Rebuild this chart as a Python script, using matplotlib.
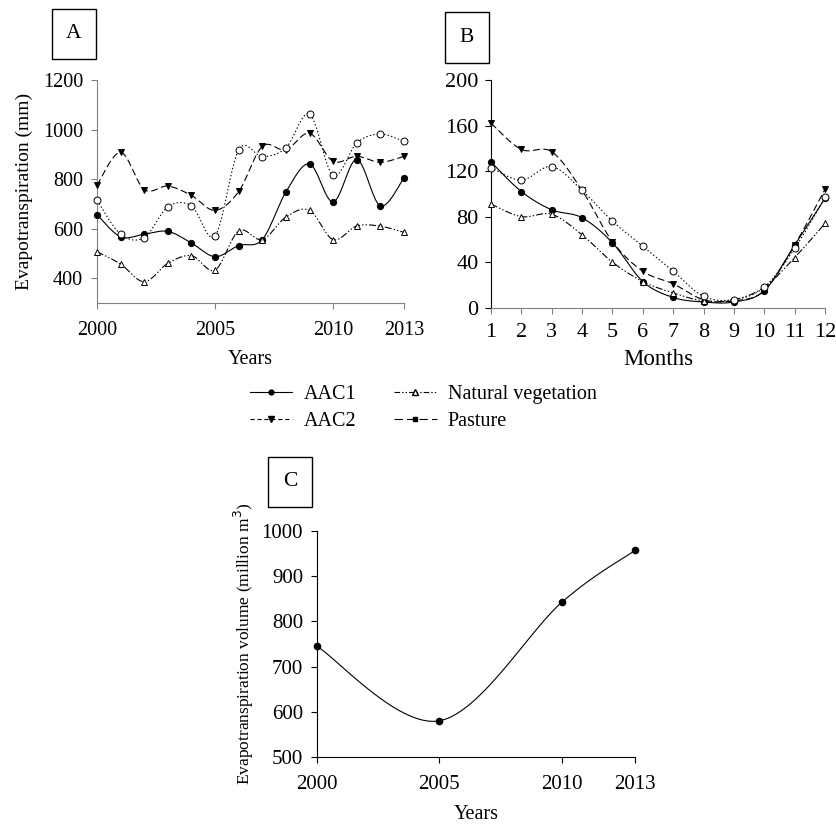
import numpy as np
import matplotlib
matplotlib.use("Agg")
import matplotlib.pyplot as plt
from matplotlib.lines import Line2D
from matplotlib.patches import Rectangle

plt.rcParams['font.family'] = ['Liberation Serif', 'DejaVu Serif']
plt.rcParams['lines.scale_dashes'] = False

# ---- data ----
years = [2000, 2001, 2002, 2003, 2004, 2005, 2006, 2007, 2008, 2009, 2010, 2011, 2012, 2013]
aac1_y = [657, 567, 578, 589, 542, 487, 532, 556, 748, 861, 708, 879, 692, 805]
aac2_y = [775, 908, 758, 772, 734, 674, 750, 932, 918, 985, 872, 892, 868, 892]
natveg_y = [507, 457, 386, 460, 491, 433, 591, 556, 647, 674, 556, 611, 610, 585]
pasture_y = [714, 578, 564, 688, 692, 571, 918, 891, 926, 1062, 815, 946, 982, 952]

months = [1, 2, 3, 4, 5, 6, 7, 8, 9, 10, 11, 12]
aac1_m = [128, 102, 86, 79, 57, 23, 9, 5, 5, 15, 55, 96]
aac2_m = [162, 139, 137, 103, 58, 32, 21, 7, 6, 15, 55, 104]
natveg_m = [91, 80, 82, 64, 40, 23, 13, 6, 7, 18, 44, 74]
pasture_m = [123, 112, 124, 103, 76, 54, 32, 10, 7, 18, 52, 97]

vol_years = [2000, 2005, 2010, 2013]
vol_values = [745, 580, 842, 957]

W, H = 837, 825


def smooth(x, y, n=24):
    # Excel-like smoothed line (Catmull-Rom as cubic Bezier)
    p = np.column_stack([x, y]).astype(float)
    p = np.vstack([p[0], p, p[-1]])
    out = []
    t = np.linspace(0, 1, n)[:, None]
    for i in range(1, len(p) - 2):
        p0, p1, p2, p3 = p[i - 1], p[i], p[i + 1], p[i + 2]
        c1 = p1 + (p2 - p0) / 6
        c2 = p2 - (p3 - p1) / 6
        seg = ((1 - t) ** 3) * p1 + 3 * ((1 - t) ** 2) * t * c1 + 3 * (1 - t) * t ** 2 * c2 + t ** 3 * p2
        out.append(seg if i == 1 else seg[1:])
    s = np.vstack(out)
    return s[:, 0], s[:, 1]


def rect(l, t, r, b):
    return [l / W, 1 - b / H, (r - l) / W, (b - t) / H]


styles = {
    'AAC1': dict(ls='-', marker='o', mfc='black', ms=4.5),
    'AAC2': dict(ls=(0, (5, 2.5)), marker='v', mfc='black', ms=5),
    'Natural vegetation': dict(ls=(0, (5, 1.5, 1, 1.5, 1, 1.5)), marker='^', mfc='white', ms=5),
    'Pasture': dict(ls=(0, (1, 1.6)), marker='o', mfc='white', ms=5),
}


def draw_series(ax, x, y, st):
    sx, sy = smooth(x, y)
    ax.plot(sx, sy, color='black', lw=0.8, ls=st['ls'], clip_on=False)
    ax.plot(x, y, ls='none', marker=st['marker'], mfc=st['mfc'], mec='black',
            mew=0.7, ms=st['ms'], clip_on=False, zorder=3)


def style_axes(ax, left_color='black', bottom_color='black'):
    for s in ['top', 'right']:
        ax.spines[s].set_visible(False)
    ax.spines['left'].set_color(left_color)
    ax.spines['bottom'].set_color(bottom_color)
    ax.tick_params(direction='out', length=4, width=0.8, colors='black')
    ax.tick_params(axis='x', color=bottom_color)
    ax.tick_params(axis='y', color=left_color)


fig = plt.figure(figsize=(W / 100, H / 100), dpi=100)

# ---- panel A ----
axA = fig.add_axes(rect(97, 80, 404, 303))
draw_series(axA, years, aac1_y, styles['AAC1'])
draw_series(axA, years, aac2_y, styles['AAC2'])
draw_series(axA, years, natveg_y, styles['Natural vegetation'])
draw_series(axA, years, pasture_y, styles['Pasture'])
axA.set_xlim(2000, 2013)
axA.set_ylim(300, 1200)
axA.set_xticks([2000, 2005, 2010, 2013])
axA.set_yticks([400, 600, 800, 1000, 1200])
axA.tick_params(axis='both', labelsize=14.5)
axA.tick_params(axis='x', pad=9)
axA.tick_params(axis='y', pad=6)
axA.set_xlabel('Years', fontsize=14.5, labelpad=7)
axA.set_ylabel('Evapotranspiration (mm)', fontsize=14, labelpad=7)
style_axes(axA, '#808080', '#808080')

# ---- panel B ----
axB = fig.add_axes(rect(491, 80, 825, 307.7))
draw_series(axB, months, aac1_m, styles['AAC1'])
draw_series(axB, months, aac2_m, styles['AAC2'])
draw_series(axB, months, natveg_m, styles['Natural vegetation'])
draw_series(axB, months, pasture_m, styles['Pasture'])
axB.set_xlim(1, 12)
axB.set_ylim(0, 200)
axB.set_xticks(months)
axB.set_yticks([0, 40, 80, 120, 160, 200])
axB.tick_params(axis='both', labelsize=16)
axB.tick_params(axis='x', pad=7)
axB.tick_params(axis='y', pad=5)
axB.set_xlabel('Months', fontsize=16.5, labelpad=5)
style_axes(axB, 'black', '#808080')

# ---- panel C ----
axC = fig.add_axes(rect(317, 531, 635, 757))
sx, sy = smooth(vol_years, vol_values)
axC.plot(sx, sy, color='black', lw=0.8, clip_on=False)
axC.plot(vol_years, vol_values, ls='none', marker='o', mfc='black', mec='black',
         ms=4.5, clip_on=False, zorder=3)
axC.set_xlim(2000, 2013)
axC.set_ylim(500, 1000)
axC.set_xticks(vol_years)
axC.set_yticks([500, 600, 700, 800, 900, 1000])
axC.tick_params(axis='both', labelsize=15)
axC.tick_params(axis='x', pad=9)
axC.tick_params(axis='y', pad=6)
axC.set_xlabel('Years', fontsize=14.5, labelpad=8)
axC.set_ylabel('Evapotranspiration volume (million m$^3$)', fontsize=12.5, labelpad=4)
style_axes(axC)

# ---- panel letters ----
for letter, (l, t, r, b) in [('A', (52, 9, 96, 59)), ('B', (445, 12, 489, 63)), ('C', (268, 457, 312, 507))]:
    fig.patches.append(Rectangle((l / W, 1 - b / H), (r - l) / W, (b - t) / H,
                                 transform=fig.transFigure, fill=False, ec='black', lw=1.0))
    fig.text((l + r) / 2 / W, 1 - (t + b) / 2 / H, letter, ha='center', va='center', fontsize=15.5)

# ---- legend ----
handles = [
    Line2D([], [], color='black', lw=0.8, ls='-', marker='o', mfc='black', mec='black', ms=3.5),
    Line2D([], [], color='black', lw=0.8, ls=(0, (3, 2)), marker='v', mfc='black', mec='black', ms=4),
    Line2D([], [], color='black', lw=0.8, ls=(0, (4, 1.5, 1, 1.5, 1, 1.5)), marker='^', mfc='white', mec='black', ms=4),
    Line2D([], [], color='black', lw=0.8, ls=(0, (6, 3)), marker='s', mfc='black', mec='black', ms=3.5),
]
labels = ['AAC1', 'AAC2', 'Natural vegetation', 'Pasture']
fig.legend(handles, labels, ncol=2, loc='upper left', bbox_to_anchor=(250 / W, 1 - 385 / H),
           frameon=False, fontsize=14.5, handlelength=2.1, handletextpad=0.55,
           columnspacing=1.9, labelspacing=0.4, borderpad=0, borderaxespad=0)

fig.savefig('out.png', dpi=100)
